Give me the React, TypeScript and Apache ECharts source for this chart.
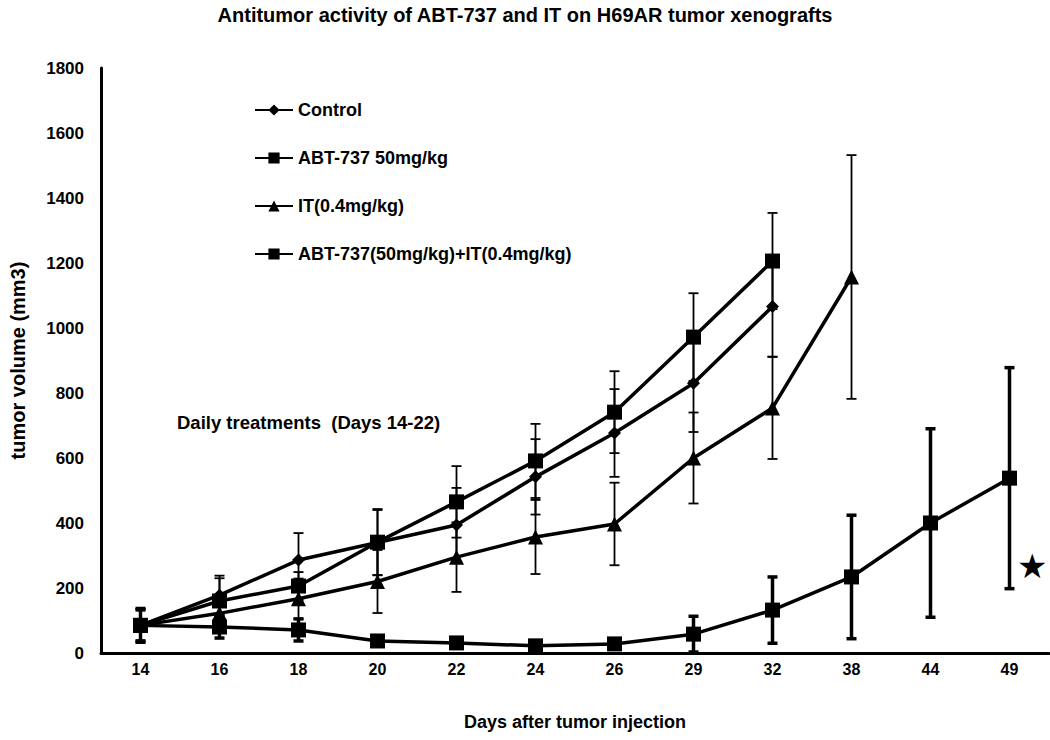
import React, { useEffect, useRef } from "react";
import * as echarts from "echarts";

const days = ["14", "16", "18", "20", "22", "24", "26", "29", "32", "38", "44", "49"];
const yTicks = [0, 200, 400, 600, 800, 1000, 1200, 1400, 1600, 1800];

const control = [85, 178, 286, 340, 394, 542, 677, 830, 1066, null, null, null];
const controlErr = [50, 60, 83, 100, 114, 116, 135, 150, 154, null, null, null];

const abt = [85, 160, 206, 341, 465, 591, 741, 972, 1206, null, null, null];
const abtErr = [50, 70, 43, 102, 110, 114, 126, 135, 148, null, null, null];

const it = [85, 122, 167, 220, 295, 357, 397, 600, 754, 1157, null, null];
const itErr = [45, 55, 62, 97, 107, 114, 127, 140, 157, 375, null, null];

const combo = [85, 80, 71, 37, 31, 22, 28, 58, 132, 234, 400, 538];
const comboErr = [52, 34, 34, 15, 10, 10, 14, 55, 102, 190, 290, 340];

const FONT = "Arial, 'Liberation Sans', sans-serif";

function errData(vals: (number | null)[], errs: (number | null)[]) {
  const out: number[][] = [];
  vals.forEach((v, i) => {
    const e = errs[i];
    if (v != null && e != null) out.push([i, v, e]);
  });
  return out;
}

function errSeries(name: string, vals: (number | null)[], errs: (number | null)[], width: number, cap: number) {
  return {
    type: "custom",
    name,
    z: 1,
    silent: true,
    data: errData(vals, errs),
    renderItem: (params: any, api: any) => {
      const i = api.value(0);
      const v = api.value(1);
      const e = api.value(2);
      const top = api.coord([i, v + e]);
      const bot = api.coord([i, Math.max(0, v - e)]);
      const style = { stroke: "#000", lineWidth: width };
      return {
        type: "group",
        children: [
          { type: "line", shape: { x1: top[0], y1: top[1], x2: bot[0], y2: bot[1] }, style },
          { type: "line", shape: { x1: top[0] - cap, y1: top[1], x2: top[0] + cap, y2: top[1] }, style },
          { type: "line", shape: { x1: bot[0] - cap, y1: bot[1], x2: bot[0] + cap, y2: bot[1] }, style },
        ],
      };
    },
  };
}

function lineSeries(name: string, data: (number | null)[], symbol: string, size: number) {
  return {
    type: "line",
    name,
    data,
    z: 3,
    symbol,
    symbolSize: size,
    showAllSymbol: true,
    connectNulls: false,
    lineStyle: { color: "#000", width: 3.5 },
    itemStyle: { color: "#000" },
  };
}

export default function App() {
  const ref = useRef<HTMLDivElement>(null);

  useEffect(() => {
    document.body.style.margin = "0";
    const chart = echarts.init(ref.current!, null, { renderer: "svg" });
    chart.setOption({
      animation: false,
      backgroundColor: "#fff",
      title: {
        text: "Antitumor activity of ABT-737 and IT on H69AR tumor xenografts",
        left: "center",
        top: 0,
        textStyle: { fontFamily: FONT, fontWeight: "bold", fontSize: 20, color: "#000" },
      },
      legend: {
        orient: "vertical",
        left: 249,
        top: 96,
        itemGap: 30,
        itemWidth: 38,
        itemHeight: 14,
        data: [
          "Control",
          "ABT-737 50mg/kg",
          "IT(0.4mg/kg)",
          "ABT-737(50mg/kg)+IT(0.4mg/kg)",
        ],
        textStyle: { fontFamily: FONT, fontWeight: "bold", fontSize: 18, color: "#000" },
      },
      grid: { left: 101, right: 1, top: 68, bottom: 87 },
      xAxis: {
        type: "category",
        data: days,
        boundaryGap: true,
        name: "Days after tumor injection",
        nameLocation: "middle",
        nameGap: 60,
        nameTextStyle: { fontFamily: FONT, fontWeight: "bold", fontSize: 18, color: "#000" },
        axisLine: { lineStyle: { color: "#000", width: 3 } },
        axisTick: { show: false },
        axisLabel: { fontFamily: FONT, fontWeight: "bold", fontSize: 16, color: "#000", margin: 8 },
        splitLine: { show: false },
      },
      yAxis: {
        type: "value",
        min: yTicks[0],
        max: yTicks[yTicks.length - 1],
        interval: 200,
        name: "tumor volume (mm3)",
        nameLocation: "middle",
        nameGap: 73,
        nameTextStyle: { fontFamily: FONT, fontWeight: "bold", fontSize: 20, color: "#000" },
        axisLine: { show: true, lineStyle: { color: "#000", width: 3 } },
        axisTick: { show: false },
        axisLabel: {
          fontFamily: FONT,
          fontWeight: "bold",
          fontSize: 17,
          color: "#000",
          margin: 17,
          formatter: (v: number) => String(v),
        },
        splitLine: { show: false },
      },
      graphic: [
        {
          type: "text",
          left: 177,
          top: 413,
          style: {
            text: "Daily treatments  (Days 14-22)",
            font: "bold 18.5px " + FONT,
            fill: "#000",
          },
        },
        {
          type: "text",
          left: 1017,
          top: 549,
          style: { text: "★", font: "34px 'DejaVu Sans'", fill: "#000" },
        },
      ],
      series: [
        errSeries("controlErr", control, controlErr, 1.8, 5),
        errSeries("abtErr", abt, abtErr, 1.8, 5),
        errSeries("itErr", it, itErr, 1.8, 5),
        errSeries("comboErr", combo, comboErr, 3.5, 5),
        lineSeries("Control", control, "diamond", 13),
        lineSeries("ABT-737 50mg/kg", abt, "rect", 15),
        lineSeries("IT(0.4mg/kg)", it, "triangle", 15),
        lineSeries("ABT-737(50mg/kg)+IT(0.4mg/kg)", combo, "rect", 15),
      ],
    });
    return () => chart.dispose();
  }, []);

  return <div ref={ref} style={{ width: 1050, height: 740 }} />;
}
